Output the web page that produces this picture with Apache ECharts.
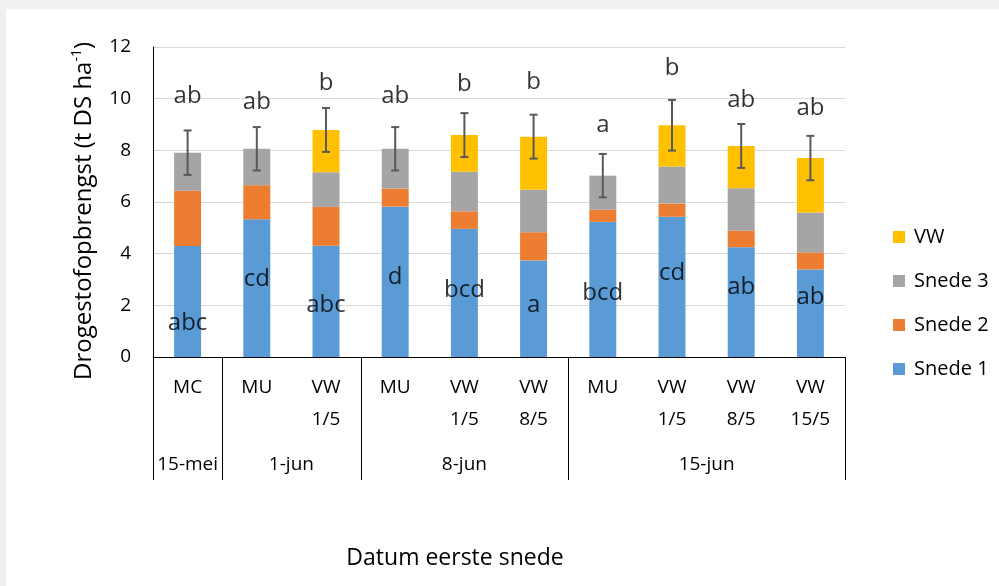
<!DOCTYPE html>
<html><head><meta charset="utf-8">
<script src="https://cdn.jsdelivr.net/npm/echarts@6/dist/echarts.min.js"></script>
<style>
html,body{margin:0;padding:0;background:#f0f0f0;width:999px;height:586px;overflow:hidden}
#chart{position:absolute;left:6px;top:9px;width:993px;height:577px;background:#fff}
</style></head><body><div id="chart"></div>
<script>
const categories = ['MC','MU','VW\n1/5','MU','VW\n1/5','VW\n8/5','MU','VW\n1/5','VW\n8/5','VW\n15/5'];
const groups = ['15-mei','1-jun','8-jun','15-jun'];
const groupSizes = [1,2,3,4];
const snede1 = [4.30,5.33,4.31,5.82,4.96,3.74,5.23,5.43,4.25,3.39];
const snede2 = [2.14,1.32,1.50,0.70,0.68,1.09,0.47,0.51,0.64,0.66];
const snede3 = [1.47,1.41,1.34,1.54,1.53,1.64,1.32,1.43,1.64,1.54];
const vw     = [0,0,1.64,0,1.42,2.06,0,1.60,1.64,2.11];
const errors = [0.86,0.84,0.85,0.84,0.85,0.85,0.84,0.98,0.85,0.86];
const topLetters = ['ab','ab','b','ab','b','b','a','b','ab','ab'];
const topLetterY = [10.08,9.88,10.60,10.08,10.56,10.62,8.98,11.18,9.95,9.63];
const baseLetters = ['abc','cd','abc','d','bcd','a','bcd','cd','ab','ab'];
const baseLetterY = [1.32,3.02,1.99,3.11,2.59,2.01,2.49,3.26,2.70,2.31];
const yMin = 0, yMax = 12, yStep = 2;

const FONT = 'Open Sans';
const totals = snede1.map((v,i)=>v+snede2[i]+snede3[i]+vw[i]);
const chart = echarts.init(document.getElementById('chart'));

function barSeries(name, data, color){
  return {name, type:'bar', stack:'total', data, barWidth:'39%',
    itemStyle:{color}, emphasis:{disabled:true}, z:2};
}

const option = {
  animation:false,
  textStyle:{fontFamily:FONT},
  grid:{left:147, right:154, top:38, bottom:229, containLabel:false},
  legend:{
    data:['VW','Snede 3','Snede 2','Snede 1'],
    orient:'vertical', left:882, top:213,
    icon:'rect', itemWidth:12, itemHeight:12, itemGap:24,
    textStyle:{fontFamily:FONT, fontSize:20, color:'#000', padding:[0,0,0,4]},
    selectedMode:false
  },
  xAxis:[{
    type:'category', data:categories, boundaryGap:true,
    axisLine:{lineStyle:{color:'#000', width:1}},
    axisTick:{show:false},
    axisLabel:{interval:0, fontFamily:FONT, fontSize:19, color:'#000', lineHeight:32, margin:15, verticalAlign:'top'},
    name:'Datum eerste snede', nameLocation:'middle', nameGap:190,
    nameTextStyle:{fontFamily:FONT, fontSize:23, color:'#000', padding:[0,88,0,0]}
  },{
    type:'value', min:0, max:categories.length, show:false
  }],
  yAxis:{
    type:'value', min:yMin, max:yMax, interval:yStep,
    axisLine:{show:true, lineStyle:{color:'#000', width:1}},
    axisTick:{show:false},
    axisLabel:{fontFamily:FONT, fontSize:19, color:'#000', margin:22},
    splitLine:{lineStyle:{color:'#d9d9d9', width:1}},
    name:'Drogestofopbrengst (t DS ha{sup|-1})', nameLocation:'middle', nameGap:55,
    nameTextStyle:{fontFamily:FONT, fontSize:24, color:'#000', padding:[0,18,0,0], lineHeight:28,
      rich:{sup:{fontFamily:FONT, fontSize:14, color:'#000', verticalAlign:'top', lineHeight:28}}}
  },
  series:[
    barSeries('Snede 1', snede1, '#5B9BD5'),
    barSeries('Snede 2', snede2, '#ED7D31'),
    barSeries('Snede 3', snede3, '#A5A5A5'),
    barSeries('VW', vw, '#FFC000'),
    {
      type:'custom', z:5,
      data: totals.map((t,i)=>[i,t,errors[i]]),
      encode:{x:0, y:1},
      renderItem(params, api){
        const x = api.value(0), t = api.value(1), e = api.value(2);
        const top = api.coord([x, t+e]), bot = api.coord([x, t-e]);
        const hw = 4, st = {stroke:'#595959', lineWidth:2};
        return {type:'group', children:[
          {type:'line', shape:{x1:top[0],y1:top[1],x2:bot[0],y2:bot[1]}, style:st},
          {type:'line', shape:{x1:top[0]-hw,y1:top[1],x2:top[0]+hw,y2:top[1]}, style:st},
          {type:'line', shape:{x1:bot[0]-hw,y1:bot[1],x2:bot[0]+hw,y2:bot[1]}, style:st}
        ]};
      }
    },
    {
      type:'scatter', z:6, symbolSize:0, silent:true,
      data: topLetterY.map((y,i)=>[i,y]),
      label:{show:true, position:'inside', formatter:p=>topLetters[p.dataIndex],
        fontFamily:FONT, fontSize:24, color:'#000'}
    },
    {
      type:'scatter', z:6, symbolSize:0, silent:true,
      data: baseLetterY.map((y,i)=>[i,y]),
      label:{show:true, position:'inside', formatter:p=>baseLetters[p.dataIndex],
        fontFamily:FONT, fontSize:24, color:'#000'}
    }
  ]
};
chart.setOption(option);

// group separators and group labels, placed via the axis scales
const y0 = chart.convertToPixel({yAxisIndex:0}, 0);
const elements = [];
let acc = 0;
const bounds = [0];
groupSizes.forEach(s=>{acc+=s; bounds.push(acc);});
bounds.forEach(b=>{
  const x = Math.round(chart.convertToPixel({xAxisIndex:1}, b)) + 0.5;
  elements.push({type:'line', shape:{x1:x,y1:y0,x2:x,y2:y0+123}, style:{stroke:'#000', lineWidth:1}, silent:true});
});
groups.forEach((g,i)=>{
  const xc = chart.convertToPixel({xAxisIndex:1}, (bounds[i]+bounds[i+1])/2);
  elements.push({type:'text', x:xc, y:y0+108, silent:true,
    style:{text:g, fontFamily:FONT, fontSize:19, fill:'#000', align:'center', verticalAlign:'middle'}});
});
chart.setOption({graphic:{elements}});
</script></body></html>
